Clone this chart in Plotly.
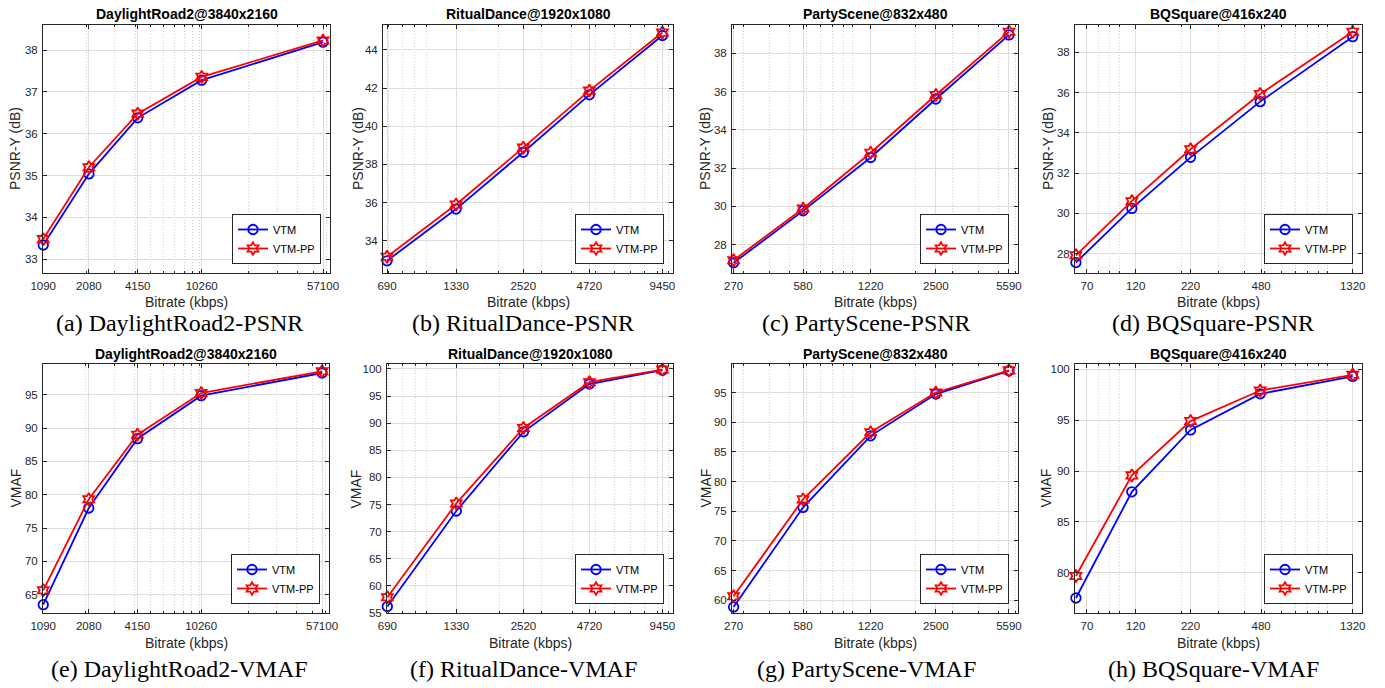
import numpy as np
import plotly.graph_objects as go

# ---------------- data ----------------
seq_titles = ["DaylightRoad2@3840x2160", "RitualDance@1920x1080", "PartyScene@832x480", "BQSquare@416x240"]

tick_dr2 = [1090, 2080, 4150, 10260, 57100]
tick_rd = [690, 1330, 2520, 4720, 9450]
tick_ps = [270, 580, 1220, 2500, 5590]
tick_bq = [70, 120, 220, 480, 1320]

rate_dr2 = [1090, 2080, 4150, 10260, 57100]
rate_rd = [690, 1330, 2520, 4720, 9450]
rate_ps = [270, 580, 1220, 2500, 5590]
rate_bq = [62, 115, 220, 475, 1320]

psnr_vtm_dr2 = [33.34, 35.04, 36.38, 37.28, 38.19]
psnr_pp_dr2 = [33.48, 35.20, 36.48, 37.36, 38.23]
psnr_vtm_rd = [32.95, 35.66, 38.64, 41.65, 44.76]
psnr_pp_rd = [33.16, 35.90, 38.88, 41.87, 44.92]
psnr_vtm_ps = [27.04, 29.76, 32.55, 35.61, 38.96]
psnr_pp_ps = [27.18, 29.88, 32.80, 35.82, 39.13]
psnr_vtm_bq = [27.55, 30.24, 32.78, 35.55, 38.78]
psnr_pp_bq = [27.91, 30.60, 33.18, 35.93, 39.02]

vmaf_vtm_dr2 = [63.5, 78.0, 88.4, 94.85, 98.25]
vmaf_pp_dr2 = [65.65, 79.3, 89.0, 95.25, 98.5]
vmaf_vtm_rd = [56.2, 73.8, 88.4, 97.2, 99.75]
vmaf_pp_rd = [57.9, 75.2, 89.1, 97.55, 99.87]
vmaf_vtm_ps = [58.87, 75.65, 87.7, 94.73, 98.66]
vmaf_pp_ps = [60.68, 77.0, 88.3, 95.0, 98.72]
vmaf_vtm_bq = [77.54, 87.96, 94.03, 97.57, 99.28]
vmaf_pp_bq = [79.7, 89.57, 94.9, 97.9, 99.44]

captions = ["(a) DaylightRoad2-PSNR", "(b) RitualDance-PSNR", "(c) PartyScene-PSNR", "(d) BQSquare-PSNR",
            "(e) DaylightRoad2-VMAF", "(f) RitualDance-VMAF", "(g) PartyScene-VMAF", "(h) BQSquare-VMAF"]

# ---------------- layout config ----------------
W, H = 1385, 688
rates = [rate_dr2, rate_rd, rate_ps, rate_bq]
ticks = [tick_dr2, tick_rd, tick_ps, tick_bq]
vtm = [psnr_vtm_dr2, psnr_vtm_rd, psnr_vtm_ps, psnr_vtm_bq,
       vmaf_vtm_dr2, vmaf_vtm_rd, vmaf_vtm_ps, vmaf_vtm_bq]
pp = [psnr_pp_dr2, psnr_pp_rd, psnr_pp_ps, psnr_pp_bq,
      vmaf_pp_dr2, vmaf_pp_rd, vmaf_pp_ps, vmaf_pp_bq]

# pixel boxes measured on the 1385x688 reference
xpix = [(43, 330), (383, 673), (732, 1018), (1075, 1362),
        (43, 329), (387, 673), (732, 1018), (1075, 1362)]
ypix = [(25, 273), (364, 613)]
xranges = [(3.036, 4.7994), (2.8223, 4.0192), (2.4238, 3.7905), (1.788, 3.1652),
           (3.036, 4.7994), (2.8375, 4.0192), (2.4238, 3.7905), (1.788, 3.1652)]
yranges = [(32.67, 38.6), (32.31, 45.31), (26.51, 39.48), (27.03, 39.36),
           (62.25, 99.6), (55.0, 100.9), (57.86, 99.8), (76.07, 100.5)]
ydticks = [1, 2, 2, 2, 5, 5, 5, 5]
ylabels = ["PSNR-Y (dB)"] * 4 + ["VMAF"] * 4
ylab_x = [15, 358, 705, 1048, 15, 355, 705, 1045]
title_y = [14, 354]
xlab_y = [302, 643]
caption_y = [323, 669]
caption_cx = [179, 523, 866, 1213]

FONT = "Liberation Sans, Arial, sans-serif"
SERIF = "Liberation Serif, Times New Roman, serif"
AXC = "#262626"


def px(v):
    return v / W


def py(v):
    return 1 - v / H


fig = go.Figure()
layout = dict(width=W, height=H, margin=dict(l=0, r=0, t=0, b=0),
              plot_bgcolor="white", paper_bgcolor="white",
              font=dict(family=FONT, size=11, color=AXC))
annotations = []

for i in range(8):
    col = i % 4
    row = i // 4
    n = "" if i == 0 else str(i + 1)
    xa, ya = "x" + n, "y" + n
    leg = "legend" + n
    x = rates[col]
    fig.add_trace(go.Scatter(x=x, y=vtm[i], name="VTM", mode="lines+markers",
                             xaxis=xa, yaxis=ya, legend=leg, cliponaxis=False,
                             line=dict(color="#0000ff", width=1.8),
                             marker=dict(symbol="circle-open", size=9.5, color="#0000ff",
                                         line=dict(width=1.8, color="#0000ff"))))
    fig.add_trace(go.Scatter(x=x, y=pp[i], name="VTM-PP", mode="lines+markers",
                             xaxis=xa, yaxis=ya, legend=leg, cliponaxis=False,
                             line=dict(color="#ff0000", width=1.8),
                             marker=dict(symbol="hexagram-open", size=9.5, color="#ff0000",
                                         line=dict(width=1.8, color="#ff0000"))))
    x0, x1 = xpix[i]
    y0, y1 = ypix[row]
    xlo, xhi = xranges[i]
    minor_vals = [m * 10 ** k for k in range(int(np.floor(xlo)), int(np.ceil(xhi)) + 1)
                  for m in range(1, 10)
                  if xlo <= np.log10(m * 10 ** k) <= xhi]
    layout["xaxis" + n] = dict(
        domain=[px(x0), px(x1)], anchor=ya, type="log", range=[xlo, xhi],
        tickmode="array", tickvals=ticks[col], ticktext=[str(t) for t in ticks[col]],
        ticks="inside", ticklen=4, tickcolor=AXC, tickwidth=1,
        showline=True, linecolor=AXC, linewidth=1, mirror="ticks",
        showgrid=True, gridcolor="#dedede", gridwidth=1,
        minor=dict(tickmode="array", tickvals=minor_vals, ticks="inside", ticklen=2,
                   tickcolor=AXC, showgrid=True, gridcolor="#cfcfcf",
                   griddash="1px,2px", gridwidth=1),
        tickfont=dict(family=FONT, size=11.5, color=AXC), ticklabelstandoff=2,
        zeroline=False, automargin=False,
    )
    ylo, yhi = yranges[i]
    layout["yaxis" + n] = dict(
        domain=[py(y1), py(y0)], anchor=xa, range=[ylo, yhi],
        tick0=0, dtick=ydticks[i],
        ticks="inside", ticklen=4, tickcolor=AXC, tickwidth=1,
        showline=True, linecolor=AXC, linewidth=1, mirror="ticks",
        showgrid=True, gridcolor="#dedede", gridwidth=1,
        tickfont=dict(family=FONT, size=11.5, color=AXC), ticklabelstandoff=2,
        zeroline=False, automargin=False,
    )
    layout[leg] = dict(
        x=px(x1 - 9), y=py(y1 - 9), xanchor="right", yanchor="bottom",
        xref="paper", yref="paper",
        bgcolor="white", bordercolor="#262626", borderwidth=1,
        font=dict(family=FONT, size=11, color="black"),
        itemwidth=30, tracegroupgap=0,
    )
    # subplot title
    annotations.append(dict(text="<b>" + seq_titles[col] + "</b>", x=px((x0 + x1) / 2),
                            y=py(title_y[row]), xref="paper", yref="paper",
                            xanchor="center", yanchor="middle", showarrow=False,
                            font=dict(family=FONT, size=14, color="black")))
    # x axis title
    annotations.append(dict(text="Bitrate (kbps)", x=px((x0 + x1) / 2), y=py(xlab_y[row]),
                            xref="paper", yref="paper", xanchor="center", yanchor="middle",
                            showarrow=False, font=dict(family=FONT, size=14, color=AXC)))
    # y axis title
    annotations.append(dict(text=ylabels[i], x=px(ylab_x[i]), y=py((y0 + y1) / 2),
                            xref="paper", yref="paper", xanchor="center", yanchor="middle",
                            textangle=-90, showarrow=False,
                            font=dict(family=FONT, size=14, color=AXC)))
    # caption
    annotations.append(dict(text=captions[i], x=px(caption_cx[col]), y=py(caption_y[row]),
                            xref="paper", yref="paper", xanchor="center", yanchor="middle",
                            showarrow=False, font=dict(family=SERIF, size=24, color="black")))

layout["annotations"] = annotations
fig.update_layout(**layout)
fig.write_html("out.html", config={"displayModeBar": False},
               post_script="document.body.style.margin='0px';")
